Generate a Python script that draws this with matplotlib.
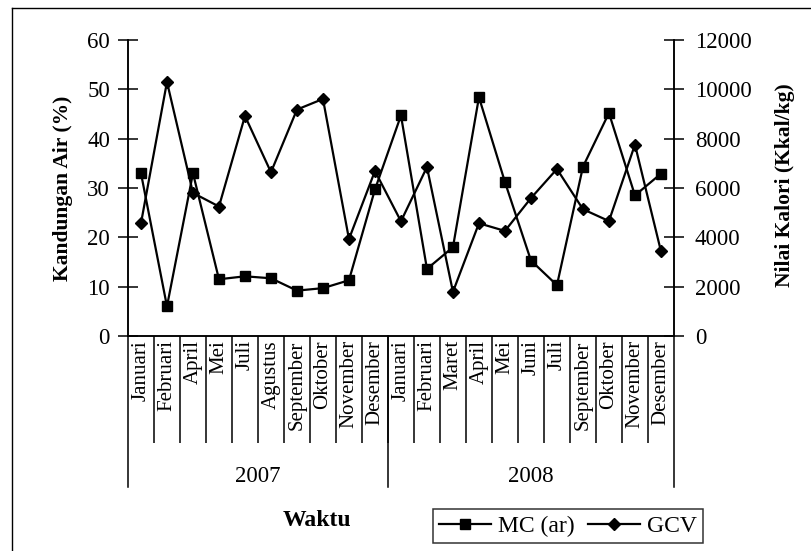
import numpy as np
import matplotlib
matplotlib.use('Agg')
import matplotlib.pyplot as plt
import matplotlib.transforms as mtransforms
from matplotlib.lines import Line2D

plt.rcParams['font.family'] = ['Liberation Serif', 'DejaVu Serif']

# Month labels per year (as printed on the axis)
months_2007 = ['Januari', 'Februari', 'April', 'Mei', 'Juli', 'Agustus',
               'September', 'Oktober', 'November', 'Desember']
months_2008 = ['Januari', 'Februari', 'Maret', 'April', 'Mei', 'Juni', 'Juli',
               'September', 'Oktober', 'November', 'Desember']
years = ['2007', '2008']

# Moisture content (%) and calorific value (kcal/kg)
mc_ar = [33.0, 6.0, 33.0, 11.5, 12.1, 11.7, 9.2, 9.7, 11.3, 29.7,
         44.7, 13.6, 18.0, 48.4, 31.2, 15.3, 10.3, 34.3, 45.2, 28.5, 32.9]
gcv = [4570, 10300, 5800, 5250, 8920, 6640, 9180, 9610, 3930, 6690,
       4650, 6850, 1790, 4570, 4260, 5590, 6770, 5140, 4660, 7760, 3440]

labels = months_2007 + months_2008
n = len(labels)
x = np.arange(n) + 0.5

fig = plt.figure(figsize=(8.11, 5.51), dpi=100)
ax = fig.add_axes([0.1578, 0.3902, 0.6732, 0.5372])
ax2 = ax.twinx()

# outer frame of the chart
fig.add_artist(Line2D([12 / 811, 12 / 811], [0, 1 - 8 / 551], color='black', lw=1.0))
fig.add_artist(Line2D([12 / 811, 1], [1 - 8 / 551, 1 - 8 / 551], color='black', lw=1.0))

ax.plot(x, mc_ar, color='black', lw=1.6, marker='s', ms=7.5, label='MC (ar)')
ax2.plot(x, gcv, color='black', lw=1.6, marker='D', ms=6.5, label='GCV')

ax.set_xlim(0, n)
ax.set_ylim(0, 60)
ax2.set_ylim(0, 12000)
ax.set_yticks(range(0, 61, 10))
ax2.set_yticks(range(0, 12001, 2000))

for a in (ax, ax2):
    a.spines['top'].set_visible(False)
    for s in a.spines.values():
        s.set_linewidth(1.1)

ax.tick_params(axis='y', direction='inout', length=14, width=1.1, labelsize=16.5, pad=6)
ax2.tick_params(axis='y', direction='inout', length=14, width=1.1, labelsize=16.5, pad=8)

# category labels at the centre of each slot, separators as minor ticks
ax.set_xticks(x)
ax.set_xticklabels(labels, rotation=90, fontsize=15)
ax.tick_params(axis='x', which='major', length=0, pad=3)
ax.set_xticks(np.arange(1, n), minor=True)
ax.tick_params(axis='x', which='minor', direction='out', length=77, width=1.1)

# longer year separators
trans = mtransforms.blended_transform_factory(ax.transData, ax.transAxes)
for xs in [0, len(months_2007), n]:
    ax.plot([xs, xs], [0, -0.51], color='black', lw=1.1, transform=trans, clip_on=False)

ax.text(len(months_2007) / 2, -0.475, years[0], transform=trans, ha='center', va='center', fontsize=16.5)
ax.text(len(months_2007) + len(months_2008) / 2, -0.475, years[1], transform=trans,
        ha='center', va='center', fontsize=16.5)

fig.text(317 / 811, 1 - 520 / 551, 'Waktu', ha='center', va='center', fontsize=17, fontweight='bold')
fig.text(63 / 811, 1 - 188 / 551, 'Kandungan Air (%)', rotation=90, ha='center', va='center',
         fontsize=15.5, fontweight='bold')
fig.text(785 / 811, 1 - 185 / 551, 'Nilai Kalori (Kkal/kg)', rotation=90, ha='center', va='center',
         fontsize=15.5, fontweight='bold')

h1, l1 = ax.get_legend_handles_labels()
h2, l2 = ax2.get_legend_handles_labels()
leg = fig.legend(h1 + h2, l1 + l2, ncol=2, loc='center', bbox_to_anchor=(568 / 811, 1 - 526 / 551),
                 fontsize=17, frameon=True, fancybox=False, edgecolor='black', handlelength=2.2,
                 columnspacing=0.6, handletextpad=0.3, borderpad=0.25, borderaxespad=0)
leg.get_frame().set_linewidth(1.1)

fig.savefig('out.png', dpi=100)
